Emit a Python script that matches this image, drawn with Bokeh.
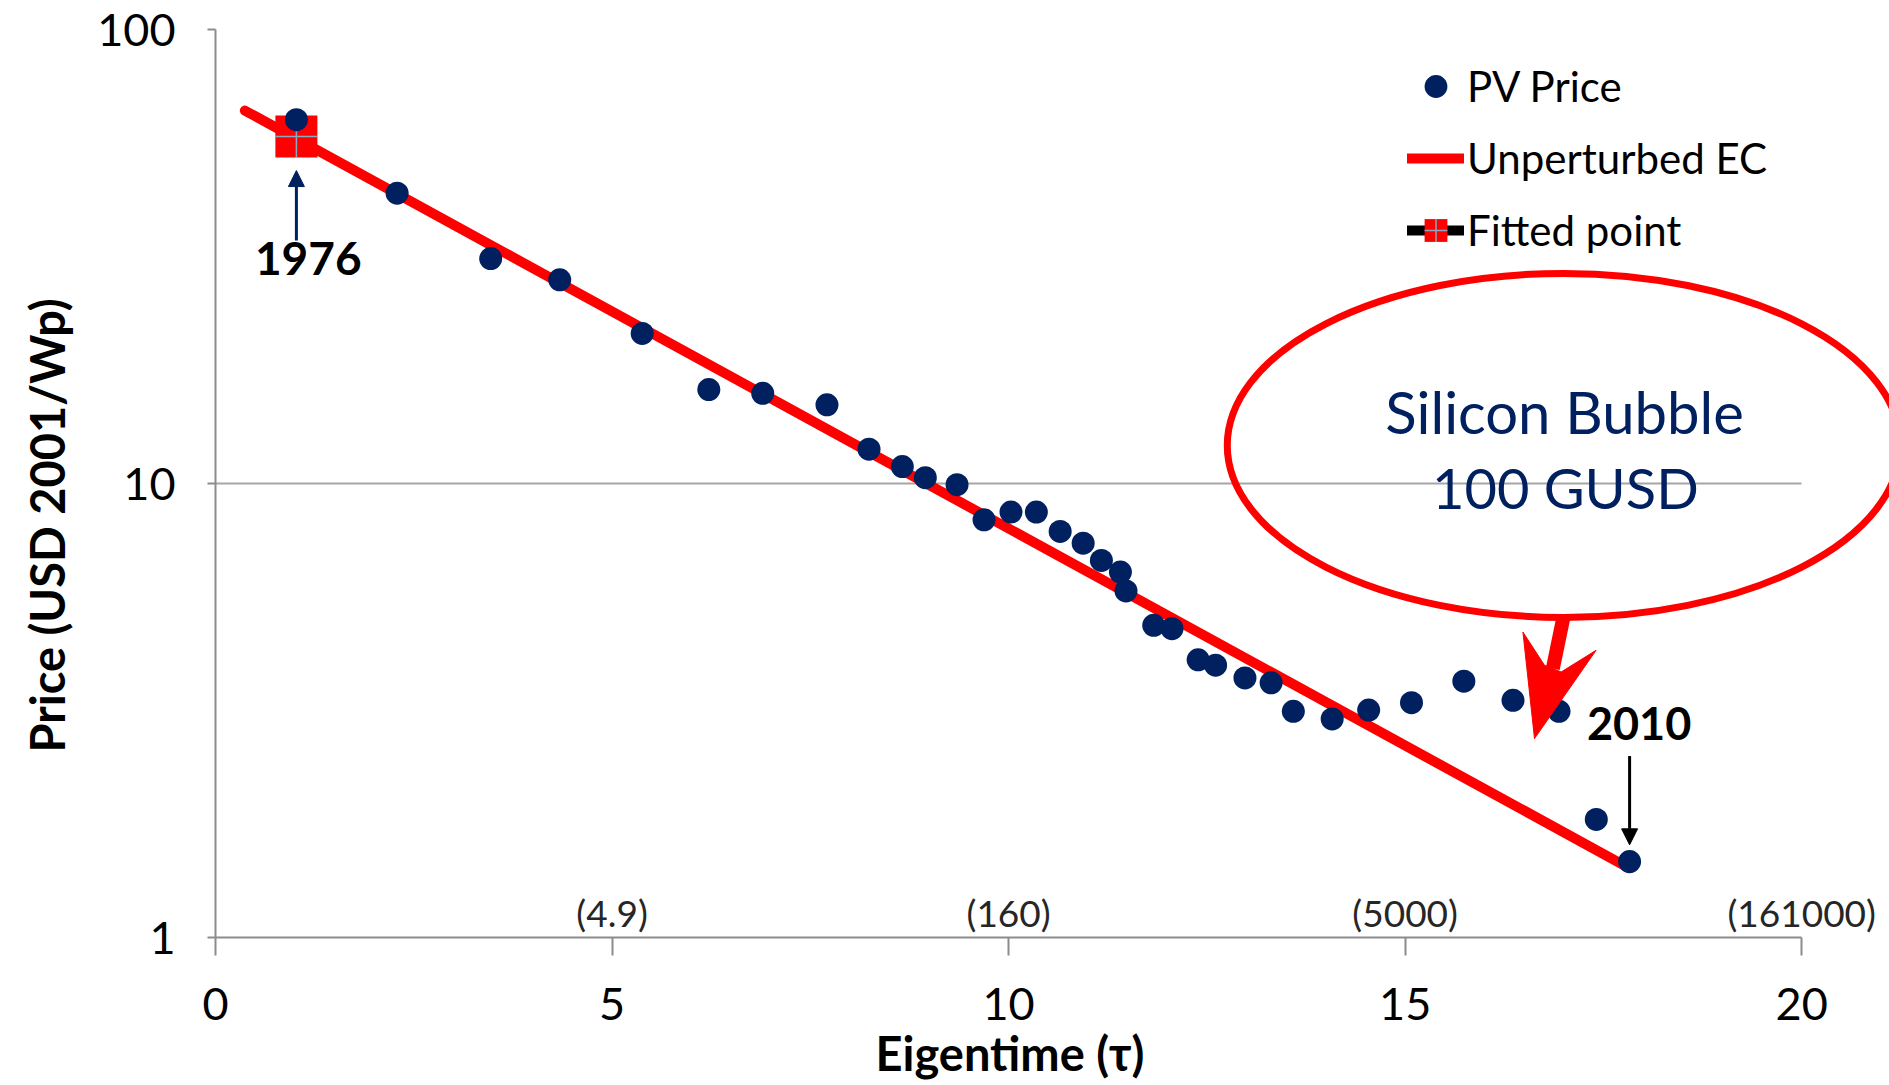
from bokeh.plotting import figure
from bokeh.models import (FixedTicker, PrintfTickFormatter, Legend, LegendItem,
                          Label, Arrow, NormalHead, Range1d, Title, PolyAnnotation)
from bokeh.core.properties import value
from bokeh.embed import file_html
from bokeh.resources import INLINE

# ---------------- data ----------------
pv_tau = [1.02, 2.29, 3.47, 4.34, 5.38, 6.22, 6.90, 7.71, 8.24, 8.66,
          8.95, 9.35, 9.69, 10.03, 10.35, 10.65, 10.94, 11.17, 11.41, 11.48,
          11.83, 12.06, 12.39, 12.61, 12.98, 13.31, 13.59, 14.08, 14.54, 15.08,
          15.74, 16.36, 16.94, 17.41, 17.83]
pv_price = [63.3, 43.6, 31.3, 28.1, 21.4, 16.1, 15.8, 14.9, 11.9, 10.9,
            10.3, 9.94, 8.32, 8.65, 8.65, 7.84, 7.39, 6.77, 6.38, 5.80,
            4.87, 4.79, 4.09, 3.98, 3.73, 3.64, 3.15, 3.03, 3.17, 3.29,
            3.67, 3.33, 3.15, 1.82, 1.47]
ec_tau = [0.37, 17.83]
ec_price = [66.3, 1.42]
fit_tau = [1.02]
fit_price = [58.1]
x_ticks = [0, 5, 10, 15, 20]
y_ticks = [1, 10, 100]
sec_tau = [5, 10, 15, 20]
sec_labels = ["(4.9)", "(160)", "(5000)", "(161000)"]

# callout arrow geometry (data units)
head_tau = [16.631, 16.485, 16.757, 16.967, 17.407]
head_price = [2.742, 4.708, 3.977, 3.845, 4.291]
shaft_tau = [16.996, 16.862]
shaft_price = [5.079, 3.911]

NAVY = "#002060"
RED = "#FF0000"
GRAY = "#8c8c8c"
FONT = "Lato"

p = figure(width=1889, height=1085,
           x_range=Range1d(0, 21.107), y_range=Range1d(1, 100),
           y_axis_type="log", output_backend="svg", toolbar_location=None,
           min_border_left=212, min_border_right=0, min_border_top=29,
           min_border_bottom=148)
p.outline_line_color = None
p.background_fill_color = "white"
p.border_fill_color = "white"

# axes
p.xaxis.ticker = FixedTicker(ticks=x_ticks)
p.xaxis.bounds = (x_ticks[0], x_ticks[-1])
p.yaxis.ticker = FixedTicker(ticks=y_ticks)
p.yaxis.formatter = PrintfTickFormatter(format="%d")
for ax in (p.xaxis[0], p.yaxis[0]):
    ax.axis_line_color = GRAY
    ax.axis_line_width = 2
    ax.major_tick_line_color = GRAY
    ax.major_tick_line_width = 2
    ax.major_tick_in = 0
    ax.minor_tick_line_color = None
    ax.major_label_text_font = FONT
    ax.major_label_text_font_size = "45px"
    ax.major_label_text_color = "black"
p.xaxis.major_tick_out = 18
p.xaxis.major_label_standoff = 32
p.yaxis.major_tick_out = 8
p.yaxis.major_label_standoff = 32

xtitle = Title(text="Eigentime (τ)", align="left", offset=660,
               vertical_align="top", standoff=4, text_font=FONT,
               text_font_size="47px", text_font_style="bold", text_color="black")
p.add_layout(xtitle, "below")

ytitle = Title(text="Price (USD 2001/Wp)", align="left", offset=185,
               vertical_align="top", standoff=36, text_font=FONT,
               text_font_size="47px", text_font_style="bold", text_color="black")
p.add_layout(ytitle, "left")

p.xgrid.visible = False
p.ygrid.ticker = FixedTicker(ticks=y_ticks)
p.ygrid.grid_line_color = "#a6a6a6"
p.ygrid.grid_line_width = 2
p.ygrid.cross_bounds = (x_ticks[0], x_ticks[-1])

# secondary x labels
p.text(x=sec_tau, y=[1] * len(sec_tau), text=sec_labels, text_align="center",
       text_baseline="bottom", y_offset=-3, text_font=value(FONT),
       text_font_size="37px", text_color="#262626")

# series
ec = p.line(ec_tau, ec_price, line_color=RED, line_width=10, line_cap="round")
fit_line = p.line(fit_tau, fit_price, line_color="black", line_width=10, line_cap="round")
fit_sq = p.scatter(fit_tau, fit_price, marker="square", size=42, fill_color=RED,
                   line_color=None)
fit_cr = p.scatter(fit_tau, fit_price, marker="cross", size=42, line_color="#8ea6c2",
                   line_width=1.5)
pv = p.scatter(pv_tau, pv_price, marker="circle", size=23, fill_color=NAVY,
               line_color=None)

legend = Legend(items=[LegendItem(label="PV Price", renderers=[pv]),
                       LegendItem(label="Unperturbed EC", renderers=[ec]),
                       LegendItem(label="Fitted point", renderers=[fit_line, fit_sq, fit_cr])],
                location=(1192, 674), glyph_width=57, glyph_height=66, spacing=6,
                padding=0, margin=0, border_line_alpha=0, background_fill_alpha=0,
                label_text_font=FONT, label_text_font_size="42px", label_standoff=3,
                label_text_color="black")
p.add_layout(legend)

# bubble callout
p.ellipse(x=[17.0], y=[12.13], width=673, height=344, width_units="screen",
          height_units="screen", fill_alpha=0, line_color=RED, line_width=7)
p.add_layout(Label(x=17.01, y=14.41, text="Silicon Bubble", text_align="center",
                   text_baseline="middle", text_font=FONT, text_font_size="58px",
                   text_color=NAVY))
p.add_layout(Label(x=17.02, y=9.82, text="100 GUSD", text_align="center",
                   text_baseline="middle", text_font=FONT, text_font_size="56px",
                   text_color=NAVY))
p.add_layout(Arrow(end=None, x_start=shaft_tau[0], y_start=shaft_price[0],
                   x_end=shaft_tau[1], y_end=shaft_price[1],
                   line_color=RED, line_width=14))
p.add_layout(PolyAnnotation(xs=head_tau, ys=head_price, fill_color=RED, fill_alpha=1,
                            line_color=RED, line_width=1, line_alpha=1))

# year annotations
p.add_layout(Arrow(end=NormalHead(size=16, fill_color=NAVY, line_color=NAVY),
                   x_start=pv_tau[0], y_start=34.3, x_end=pv_tau[0], y_end=48.9,
                   line_color=NAVY, line_width=3))
p.add_layout(Label(x=1.17, y=31.3, text="1976", text_align="center",
                   text_baseline="middle", text_font=FONT, text_font_size="46px",
                   text_font_style="bold", text_color="black"))
p.add_layout(Arrow(end=NormalHead(size=16, fill_color="black", line_color="black"),
                   x_start=pv_tau[-1], y_start=2.51, x_end=pv_tau[-1], y_end=1.60,
                   line_color="black", line_width=3))
p.add_layout(Label(x=17.95, y=2.96, text="2010", text_align="center",
                   text_baseline="middle", text_font=FONT, text_font_size="45px",
                   text_font_style="bold", text_color="black"))

open("out.html", "w").write(file_html(p, INLINE))
